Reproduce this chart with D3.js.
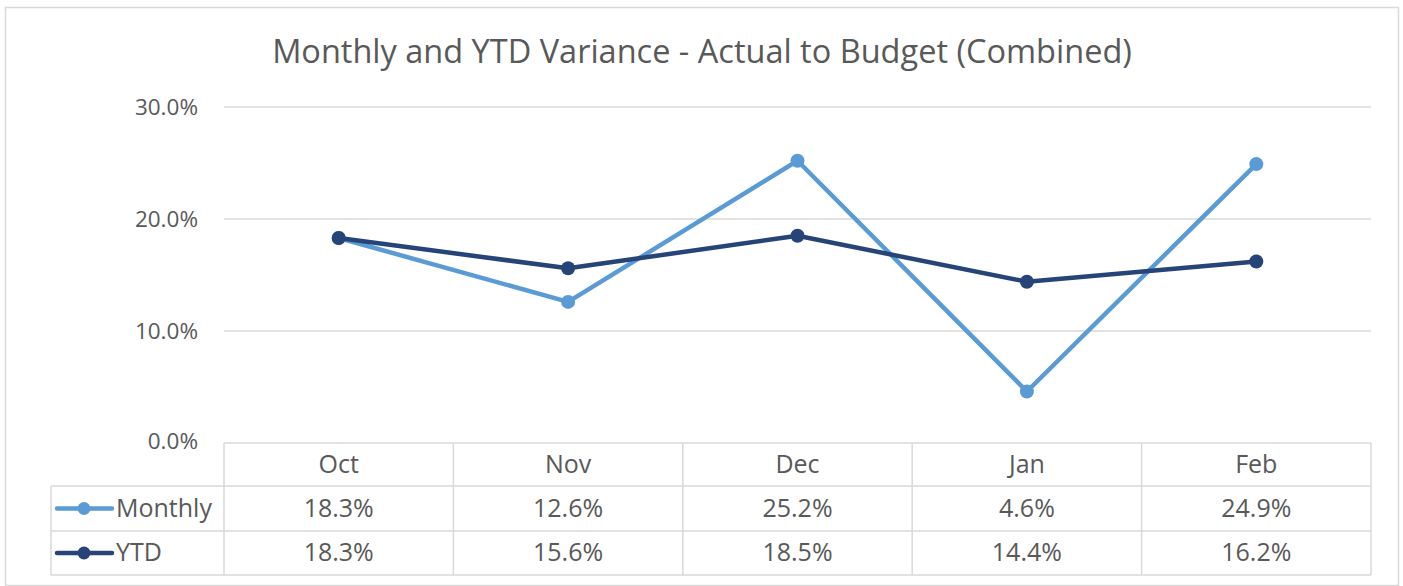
<!DOCTYPE html>
<html><head><meta charset="utf-8">
<script src="https://cdn.jsdelivr.net/npm/d3@7"></script>
<style>body{margin:0;background:#fff}svg{display:block}text{font-family:"Open Sans",sans-serif;fill:#595959}</style>
</head><body><svg id="c" width="1403" height="586"></svg>
<script>
(function(){
const categories = ["Oct","Nov","Dec","Jan","Feb"];
const monthly = [18.3,12.6,25.2,4.6,24.9];
const ytd = [18.3,15.6,18.5,14.4,16.2];
const yTicks = [0,10,20,30];
const seriesNames = ["Monthly","YTD"];
const colors = ["#5B9BD5","#264478"];

const svg = d3.select("#c");
svg.append("rect").attr("x",5.5).attr("y",7.5).attr("width",1393).attr("height",578).attr("fill","#fff").attr("stroke","#d9d9d9").attr("stroke-width",1.5);

svg.append("text").attr("x",702).attr("y",63).attr("text-anchor","middle").attr("font-size",32.5).text("Monthly and YTD Variance - Actual to Budget (Combined)");

const pLeft=224,pRight=1371,pTop=107,pBottom=443;
const x = d3.scaleBand().domain(categories).range([pLeft,pRight]);
const y = d3.scaleLinear().domain([0,30]).range([pBottom,pTop]);

const g = svg.append("g");
g.selectAll("line.grid").data(yTicks.filter(d=>d>0)).join("line")
 .attr("x1",pLeft).attr("x2",pRight).attr("y1",d=>y(d)).attr("y2",d=>y(d))
 .attr("stroke","#d9d9d9").attr("stroke-width",1.5);
const yAxis = d3.axisLeft(y).tickValues(yTicks).tickFormat(d=>d.toFixed(1)+"%").tickSize(0).tickPadding(0);
const ya = svg.append("g").attr("transform",`translate(198,0)`).call(yAxis);
ya.select(".domain").remove();
ya.selectAll("text").attr("font-size",22.5).attr("fill","#595959").style("font-family","'Open Sans',sans-serif").attr("dy","0.33em");
ya.selectAll(".tick").filter(d=>d===0).select("text").attr("transform","translate(0,-2)");

const rowY=[443,486,531,575];
const tb = svg.append("g").attr("stroke","#d9d9d9").attr("stroke-width",1.5).attr("fill","none");
tb.append("line").attr("x1",pLeft).attr("x2",pRight).attr("y1",rowY[0]).attr("y2",rowY[0]);
rowY.slice(1).forEach(yy=>tb.append("line").attr("x1",51).attr("x2",pRight).attr("y1",yy).attr("y2",yy));
tb.append("line").attr("x1",51).attr("x2",51).attr("y1",rowY[1]).attr("y2",rowY[3]);
categories.forEach((c,i)=>tb.append("line").attr("x1",x(c)).attr("x2",x(c)).attr("y1",rowY[0]).attr("y2",rowY[3]));
tb.append("line").attr("x1",pRight).attr("x2",pRight).attr("y1",rowY[0]).attr("y2",rowY[3]);

const cx = c=>x(c)+x.bandwidth()/2;
svg.selectAll("text.hdr").data(categories).join("text").attr("class","hdr")
 .attr("x",cx).attr("y",(rowY[0]+rowY[1])/2).attr("dy","0.33em").attr("text-anchor","middle").attr("font-size",25).text(d=>d);

const data=[monthly,ytd];
data.forEach((vals,si)=>{
  const ym=(rowY[si+1]+rowY[si+2])/2;
  svg.selectAll("text.v"+si).data(vals).join("text").attr("class","v"+si)
   .attr("x",(d,i)=>cx(categories[i])).attr("y",ym).attr("dy","0.33em").attr("text-anchor","middle").attr("font-size",25).text(d=>d.toFixed(1)+"%");
  svg.append("line").attr("x1",57).attr("x2",112).attr("y1",ym).attr("y2",ym).attr("stroke",colors[si]).attr("stroke-width",4.5).attr("stroke-linecap","round");
  svg.append("circle").attr("cx",84).attr("cy",ym).attr("r",6.5).attr("fill",colors[si]);
  svg.append("text").attr("x",116).attr("y",ym).attr("dy","0.33em").attr("font-size",25).text(seriesNames[si]);
});

const line = d3.line().x((d,i)=>cx(categories[i])).y(d=>y(d));
data.forEach((vals,si)=>{
  svg.append("path").datum(vals).attr("d",line).attr("fill","none").attr("stroke",colors[si]).attr("stroke-width",4.5).attr("stroke-linejoin","round");
  svg.selectAll("circle.p"+si).data(vals).join("circle").attr("class","p"+si)
   .attr("cx",(d,i)=>cx(categories[i])).attr("cy",d=>y(d)).attr("r",7).attr("fill",colors[si]);
});
})();
</script></body></html>
